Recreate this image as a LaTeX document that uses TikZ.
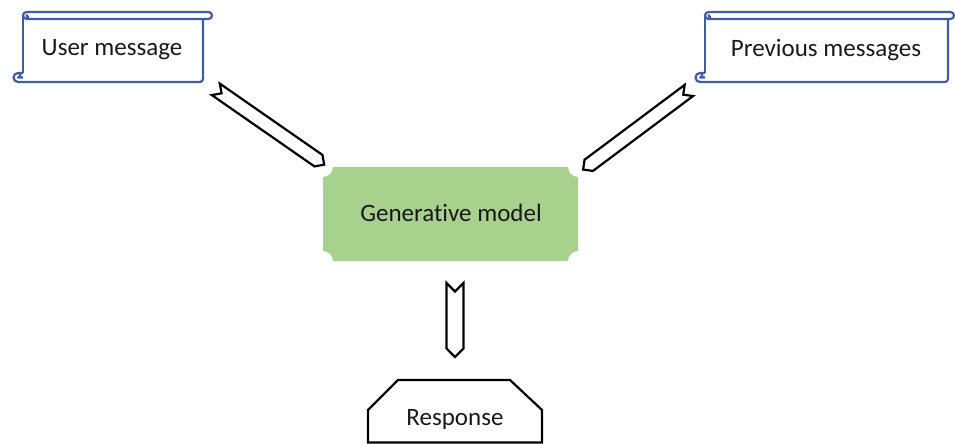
\documentclass[tikz,border=0pt]{standalone}
\usepackage{fontspec}
\setmainfont{Carlito}[Ligatures=NoCommon]
\usetikzlibrary{shapes.symbols}

\definecolor{scrollblue}{RGB}{64,92,168}
\definecolor{genfill}{RGB}{169,209,142}
\definecolor{ink}{RGB}{25,25,25}

\tikzset{
  label text/.style={font=\fontsize{25}{30}\selectfont, text=ink, inner sep=0pt},
  scrollline/.style={draw=scrollblue, line width=2.2pt, line join=round},
  blockarrow/.style={signal, signal to=east, signal from=west, signal pointer angle=90,
    draw=black, line width=2.2pt, fill=white, inner sep=0pt, line join=miter},
  % horizontal scroll outline: #1 body width, #2 length of the top roll
  pics/scrollbox/.style 2 args={code={
    \draw[scrollline] (0,9) -- (-5,9) arc (90:270:4.5) -- (#1-3,0) arc (-90:0:3) -- (#1,63);
    \draw[scrollline] (-5,9) arc (90:-90:2.25) -- (0,4.5);
    \draw[scrollline] (0,9) -- (0,66.5);
    \draw[scrollline] (3.5,70) -- (#2-3.5,70) arc (90:-90:3.5) -- (3.5,63) arc (270:90:3.5);
    \draw[scrollline] (3.5,63) arc (-90:90:1.75) -- (5,66.5);
  }}
}

\begin{document}
\begin{tikzpicture}[x=1pt,y=1pt]
\useasboundingbox (0,0) rectangle (955,444);

% input scrolls
\pic at (23,362) {scrollbox={180}{189}};
\node[label text] (user) at (112,394) {User message};

\pic at (705,362) {scrollbox={243}{249}};
\node[label text] (prev) at (826,394) {Previous messages};

% model plaque with concave corners
\fill[genfill] (333,277) -- (568,277) arc (180:270:10) -- (578,193) arc (90:180:10)
  -- (333,183) arc (0:90:10) -- (323,267) arc (270:360:10) -- cycle;
\node[label text] (gen) at (451,231) {Generative model};

% output shape
\draw[line width=2.2pt, line join=miter] (368,1.5) -- (368,34) -- (398,64) -- (510,64)
  -- (542,34) -- (542,1.5) -- cycle;
\node[label text] (resp) at (455,25) {Response};

% notched block arrows
\node[blockarrow, minimum width=132pt, minimum height=14pt, rotate=-34.8] (a1) at (270,317) {};
\node[blockarrow, minimum width=132pt, minimum height=14pt, rotate=216.8] (a2) at (636,314) {};
\node[blockarrow, minimum width=74pt, minimum height=17pt, rotate=-90] (a3) at (455,124) {};
\end{tikzpicture}
\end{document}
